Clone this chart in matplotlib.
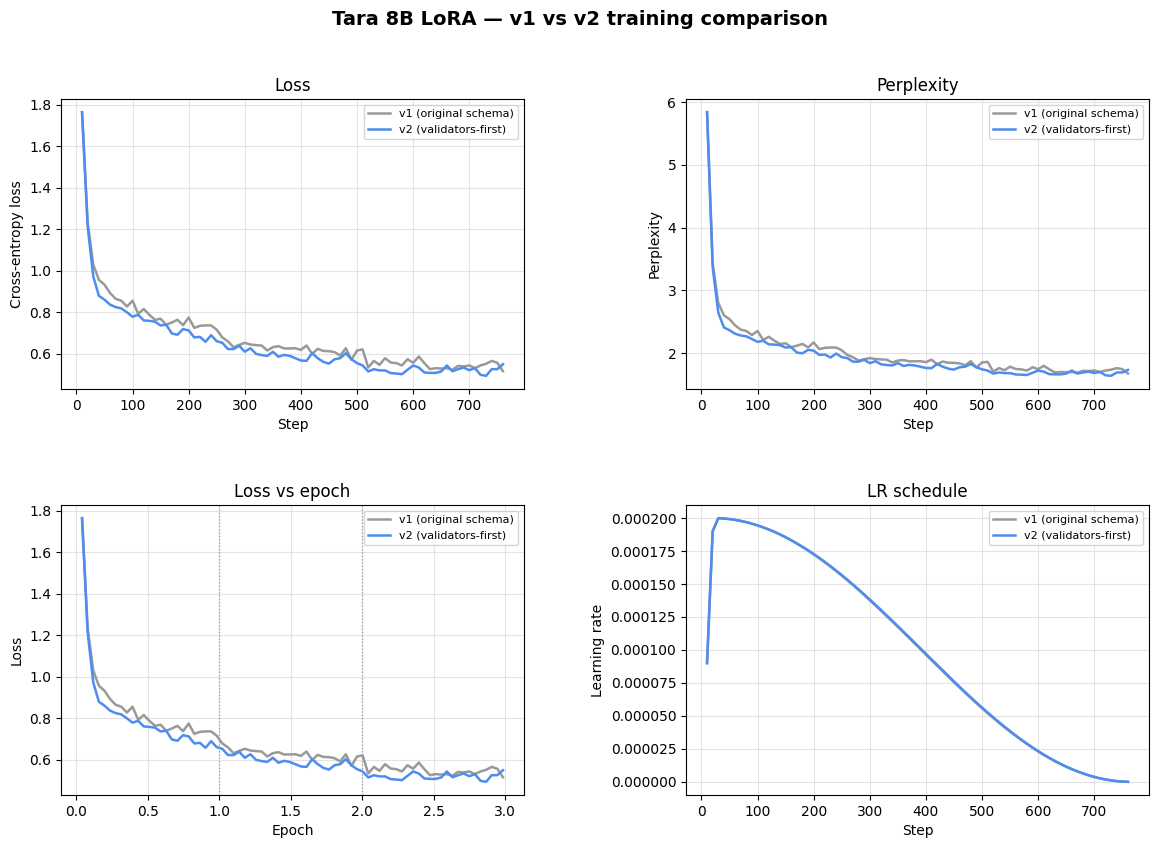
import numpy as np
import matplotlib
matplotlib.use("Agg")
import matplotlib.pyplot as plt

steps = list(range(10, 770, 10))

loss_v1 = [1.765, 1.235, 1.030, 0.957, 0.933, 0.893, 0.865, 0.856, 0.828, 0.856,
           0.793, 0.816, 0.788, 0.764, 0.769, 0.740, 0.751, 0.764, 0.738, 0.775,
           0.725, 0.735, 0.737, 0.737, 0.716, 0.679, 0.660, 0.632, 0.643, 0.653,
           0.645, 0.642, 0.640, 0.616, 0.632, 0.637, 0.626, 0.626, 0.627, 0.619,
           0.640, 0.600, 0.624, 0.614, 0.613, 0.608, 0.592, 0.627, 0.571, 0.616,
           0.621, 0.534, 0.566, 0.547, 0.579, 0.558, 0.555, 0.544, 0.574, 0.557,
           0.587, 0.555, 0.526, 0.531, 0.529, 0.531, 0.523, 0.542, 0.539, 0.544,
           0.531, 0.544, 0.552, 0.566, 0.557, 0.516]

loss_v2 = [1.765, 1.215, 0.973, 0.880, 0.861, 0.837, 0.825, 0.819, 0.800, 0.779,
           0.788, 0.761, 0.759, 0.755, 0.737, 0.740, 0.698, 0.692, 0.719, 0.713,
           0.679, 0.682, 0.658, 0.690, 0.661, 0.653, 0.623, 0.623, 0.639, 0.610,
           0.627, 0.600, 0.594, 0.590, 0.610, 0.586, 0.595, 0.590, 0.579, 0.568,
           0.566, 0.603, 0.579, 0.561, 0.553, 0.574, 0.579, 0.603, 0.574, 0.555,
           0.544, 0.515, 0.526, 0.520, 0.520, 0.507, 0.505, 0.502, 0.523, 0.544,
           0.534, 0.510, 0.508, 0.508, 0.515, 0.544, 0.516, 0.526, 0.534, 0.521,
           0.531, 0.499, 0.494, 0.526, 0.526, 0.550]

# learning rate in units of 1e-6
lr_v2_e6 = [90.0, 190.0, 199.93, 199.68, 199.25, 198.65, 197.86, 196.91, 195.78, 194.49,
            193.02, 191.39, 189.60, 187.64, 185.52, 183.26, 180.85, 178.29, 175.60, 172.77,
            169.81, 166.72, 163.52, 160.20, 156.77, 153.25, 149.65, 145.94, 142.13, 138.24,
            134.31, 130.33, 126.27, 122.18, 118.06, 113.89, 109.72, 105.52, 101.31, 97.11,
            92.91, 88.74, 84.59, 80.35, 76.15, 72.10, 68.05, 64.08, 60.17, 56.34,
            52.58, 48.91, 45.33, 41.83, 38.45, 35.18, 32.03, 28.99, 26.09, 23.31,
            20.66, 18.16, 15.81, 13.61, 11.56, 9.67, 7.94, 6.38, 4.97, 3.74,
            2.68, 1.80, 1.09, 0.56, 0.20, 0.02]
lr_v1_e6 = [90.0, 190.0, 199.93, 199.67, 199.23, 198.62, 197.82, 196.86, 195.72, 194.41,
            192.93, 191.28, 189.47, 187.50, 185.36, 183.08, 180.65, 178.07, 175.36, 172.50,
            169.52, 166.41, 163.18, 159.84, 156.39, 152.84, 149.20, 145.47, 141.64, 137.72,
            133.76, 129.76, 125.69, 121.58, 117.45, 113.27, 109.08, 104.88, 100.66, 96.45,
            92.25, 88.08, 83.93, 79.69, 75.51, 71.46, 67.43, 63.48, 59.58, 55.78,
            52.05, 48.41, 44.86, 41.39, 38.04, 34.80, 31.68, 28.67, 25.80, 23.05,
            20.42, 17.95, 15.63, 13.45, 11.43, 9.56, 7.85, 6.31, 4.92, 3.70,
            2.65, 1.78, 1.08, 0.55, 0.19, 0.02]

steps_per_epoch = 764 / 3
epoch_marks = [1.0, 2.0]

label_v1 = "v1 (original schema)"
label_v2 = "v2 (validators-first)"
c_v1 = "#999999"
c_v2 = "#4d8cf0"

steps_a = np.array(steps)
l1 = np.array(loss_v1)
l2 = np.array(loss_v2)
ep = steps_a / steps_per_epoch
lr1 = np.array(lr_v1_e6) * 1e-6
lr2 = np.array(lr_v2_e6) * 1e-6

fig = plt.figure(figsize=(11.59, 8.47), dpi=100)
W, H = 1159, 847

def make_ax(l, r, t, b):
    return fig.add_axes([l / W, 1 - b / H, (r - l) / W, (b - t) / H])

ax1 = make_ax(61, 524, 99, 389)
ax2 = make_ax(686, 1149, 99, 389)
ax3 = make_ax(61, 524, 505, 795)
ax4 = make_ax(686, 1149, 505, 795)

lw = 1.8

def style(ax, title, xlabel, ylabel):
    ax.set_title(title, fontsize=12)
    ax.set_xlabel(xlabel, fontsize=10)
    ax.set_ylabel(ylabel, fontsize=10)
    ax.grid(True, color="#dddddd", linewidth=0.8, alpha=0.8)
    ax.tick_params(labelsize=10)
    ax.legend(loc="upper right", fontsize=8)

ax1.plot(steps_a, l1, color=c_v1, lw=lw, label=label_v1)
ax1.plot(steps_a, l2, color=c_v2, lw=lw, label=label_v2)
style(ax1, "Loss", "Step", "Cross-entropy loss")

ax2.plot(steps_a, np.exp(l1), color=c_v1, lw=lw, label=label_v1)
ax2.plot(steps_a, np.exp(l2), color=c_v2, lw=lw, label=label_v2)
style(ax2, "Perplexity", "Step", "Perplexity")

ax3.plot(ep, l1, color=c_v1, lw=lw, label=label_v1)
ax3.plot(ep, l2, color=c_v2, lw=lw, label=label_v2)
for e in epoch_marks:
    ax3.axvline(e, color="#999999", linestyle=":", linewidth=0.9)
style(ax3, "Loss vs epoch", "Epoch", "Loss")

ax4.plot(steps_a, lr1, color=c_v1, lw=lw, label=label_v1)
ax4.plot(steps_a, lr2, color=c_v2, lw=lw, label=label_v2)
style(ax4, "LR schedule", "Step", "Learning rate")

fig.suptitle("Tara 8B LoRA \u2014 v1 vs v2 training comparison", fontsize=14,
             fontweight="bold", y=0.988)

fig.savefig("out.png", dpi=100)
